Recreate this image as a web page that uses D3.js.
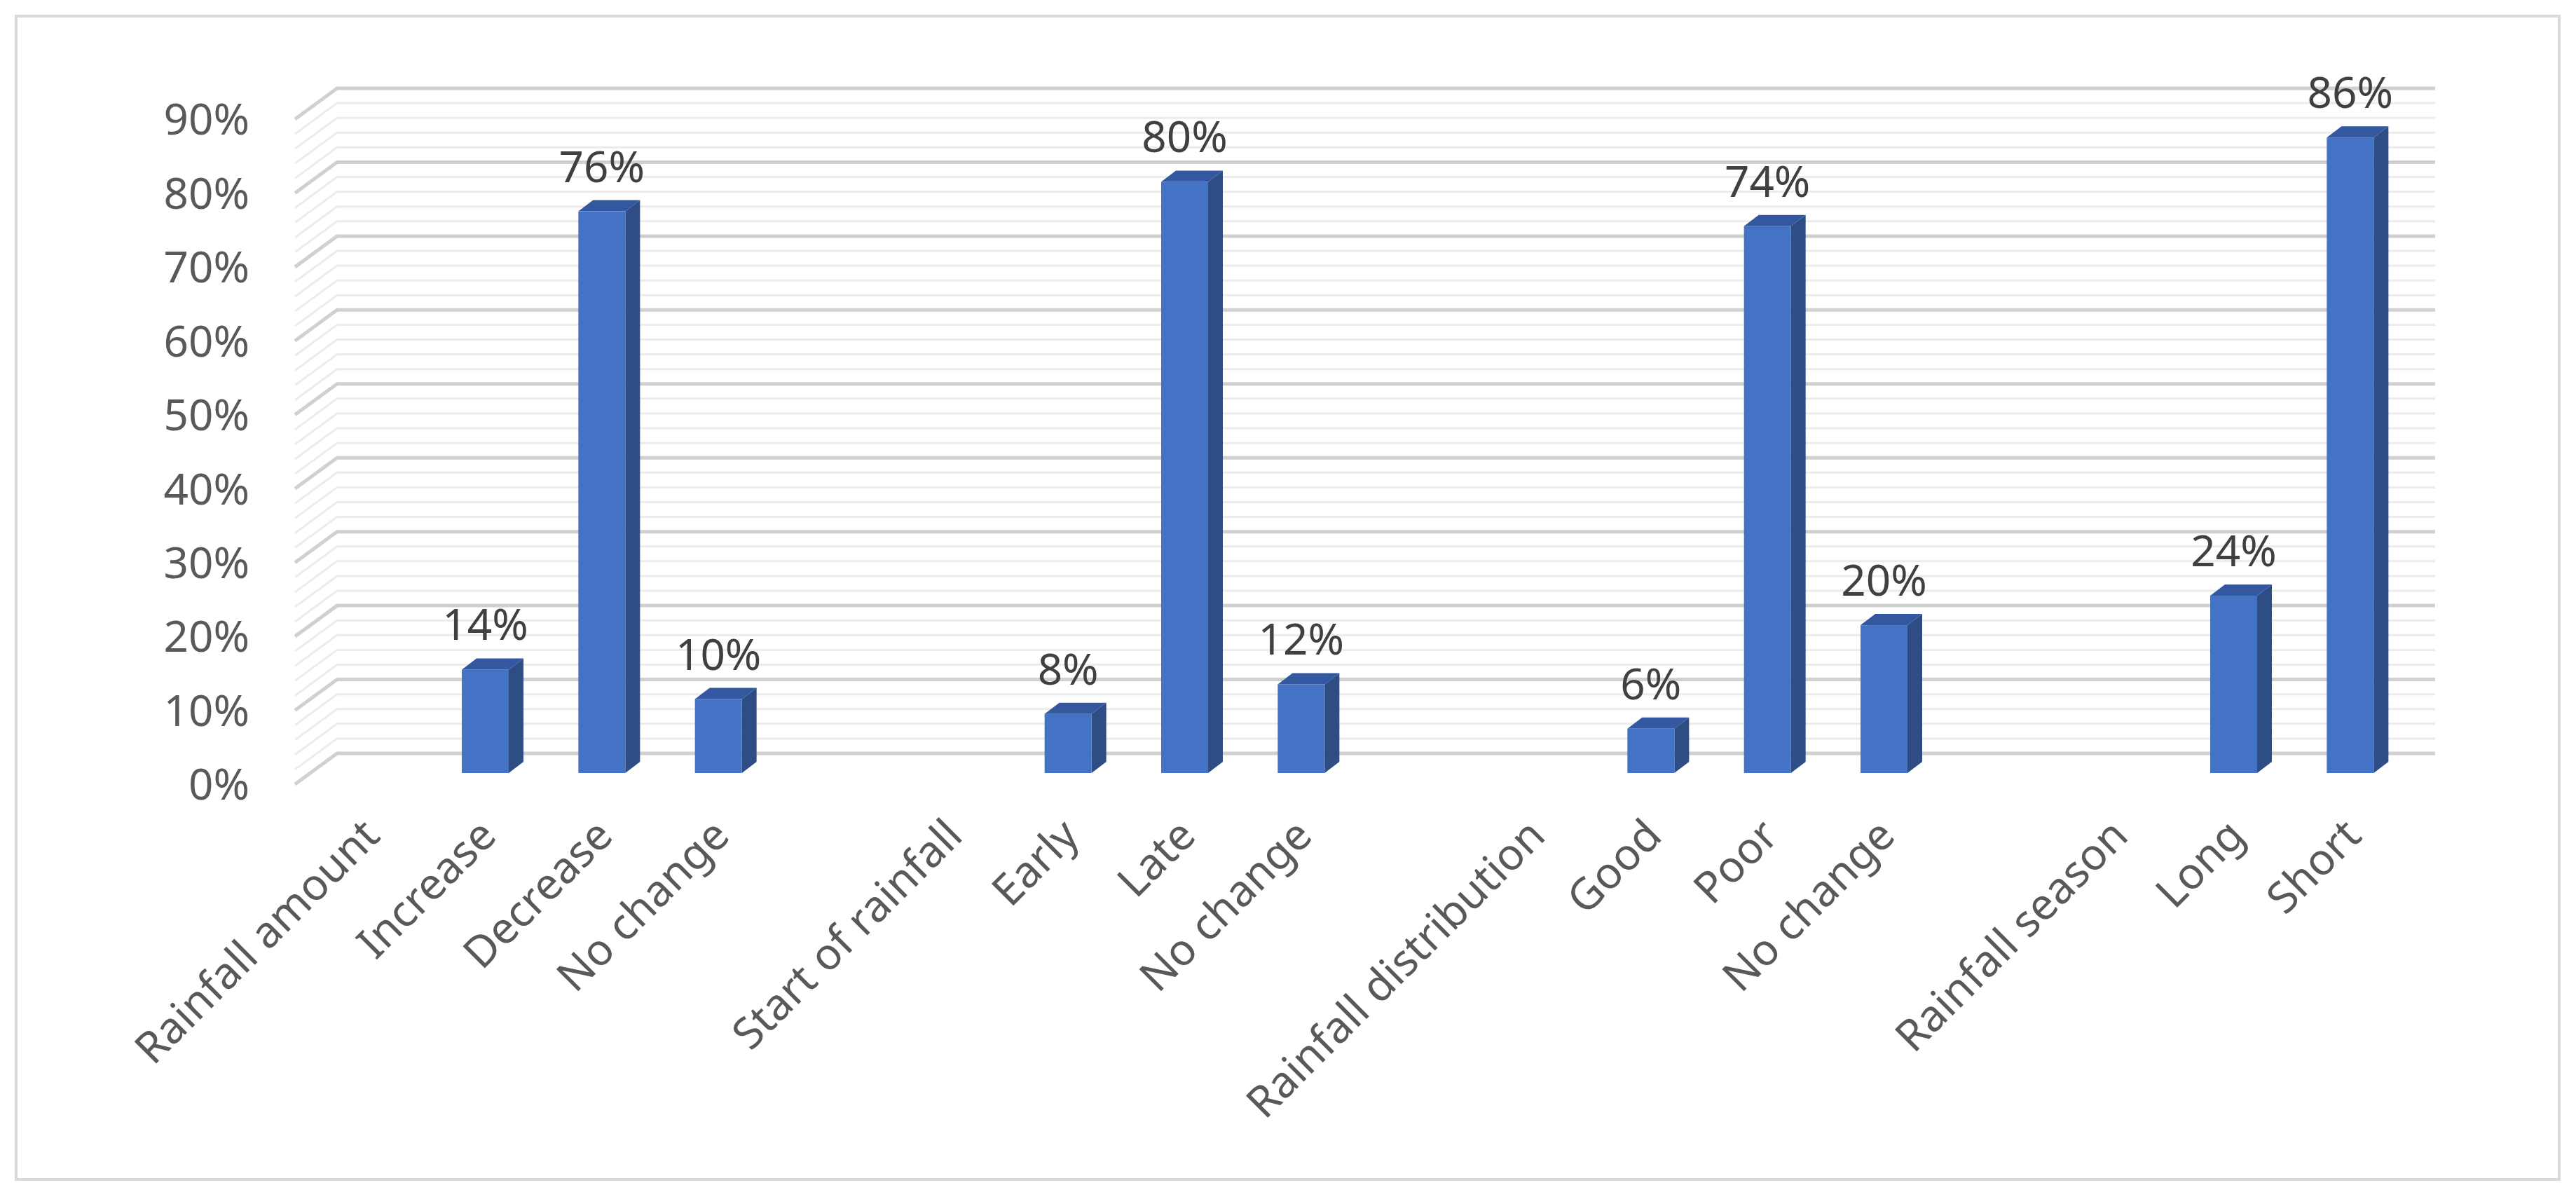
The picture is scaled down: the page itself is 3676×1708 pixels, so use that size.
<!DOCTYPE html>
<html><head><meta charset="utf-8">
<script src="https://cdn.jsdelivr.net/npm/d3@7"></script>
<style>body{margin:0;background:#fff}</style>
</head><body><div id="chart"></div>
<script>
const categories = ["Rainfall amount","Increase","Decrease","No change","","Start of rainfall","Early","Late","No change","","Rainfall distribution","Good","Poor","No change","","Rainfall season","Long","Short"];
const values = [0,14,76,10,null,0,8,80,12,null,0,6,74,20,null,0,24,86];
const yTicks = [0,10,20,30,40,50,60,70,80,90];

const width = 3676, height = 1708;
const svg = d3.select("#chart").append("svg").attr("width", width).attr("height", height);
svg.append("rect").attr("x", 23).attr("y", 23).attr("width", 3629).attr("height", 1660)
  .attr("fill", "#fff").attr("stroke", "#d9d9d9").attr("stroke-width", 4);

const left = 421, right = 3415, dx = 60, dy = -44;
const y = d3.scaleLinear().domain([0, 90]).range([1119, 170]);
const x = d3.scaleBand().domain(d3.range(categories.length)).range([left, right]);

// gridlines: floor/back wall (minor every 2%, major every 10%)
const grid = svg.append("g").attr("fill", "none");
d3.range(0, 91, 2).forEach(v => {
  const major = v % 10 === 0;
  grid.append("path")
    .attr("d", `M${left},${y(v)}L${left + dx},${y(v) + dy}L${right + dx},${y(v) + dy}`)
    .attr("stroke", major ? "#d0d0d0" : "#ececec")
    .attr("stroke-width", major ? 5 : 3);
});

// y axis labels
svg.append("g").selectAll("text").data(yTicks).join("text")
  .attr("x", 356).attr("y", d => y(d)).attr("dy", "0.36em")
  .attr("text-anchor", "end").attr("font-family", "Noto Sans").attr("font-size", 62)
  .attr("fill", "#595959").text(d => d + "%");

// bars (3D)
const bw = 67, bdx = 21, bdy = -16, off = 22, base = y(0) - 16;
const bars = svg.append("g");
categories.forEach((c, i) => {
  const v = values[i];
  if (!v) return;
  const x0 = x(i) + x.bandwidth() / 2 + off - bw / 2;
  const top = base - (y(0) - y(v));
  bars.append("path").attr("d", `M${x0 + bw},${top}L${x0 + bw + bdx},${top + bdy}L${x0 + bw + bdx},${base + bdy}L${x0 + bw},${base}Z`).attr("fill", "#2e4d85");
  bars.append("path").attr("d", `M${x0},${top}L${x0 + bdx},${top + bdy}L${x0 + bw + bdx},${top + bdy}L${x0 + bw},${top}Z`).attr("fill", "#3358a0");
  bars.append("rect").attr("x", x0).attr("y", top).attr("width", bw).attr("height", base - top).attr("fill", "#4472c4");
  bars.append("text").attr("x", x0 + bw / 2).attr("y", top - 42)
    .attr("text-anchor", "middle").attr("font-family", "Noto Sans").attr("font-size", 62)
    .attr("fill", "#404040").text(v + "%");
});

// x labels rotated
svg.append("g").selectAll("text").data(categories).join("text")
  .attr("transform", (d, i) => `translate(${x(i) + x.bandwidth() / 2 + 10},${1165}) rotate(-45)`)
  .attr("text-anchor", "end").attr("dy", "0.7em").attr("font-family", "Noto Sans").attr("font-size", 62)
  .attr("fill", "#595959").text(d => d);
</script></body></html>
